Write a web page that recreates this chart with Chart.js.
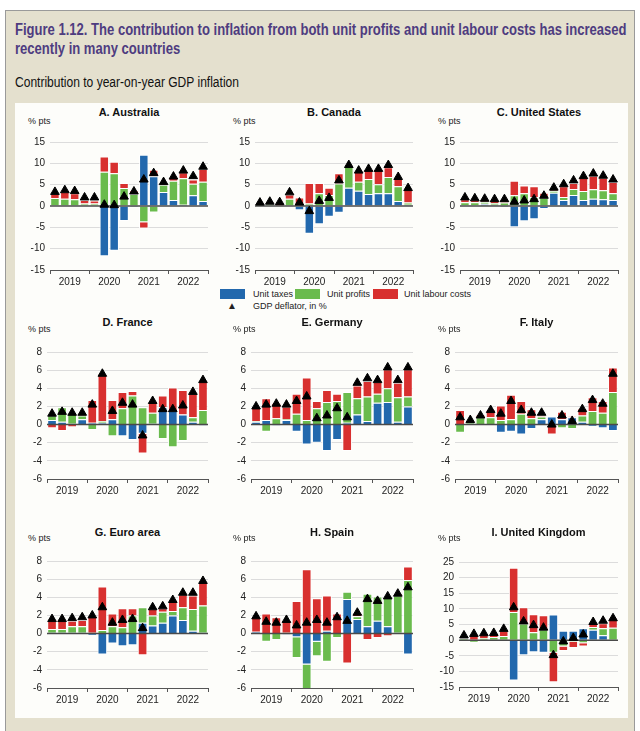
<!DOCTYPE html>
<html>
<head>
<meta charset="utf-8">
<script src="https://cdn.jsdelivr.net/npm/chart.js@4/dist/chart.umd.min.js"></script>
<style>
  html,body{margin:0;padding:0;background:#fff;width:640px;height:731px;overflow:hidden;}
  #frame{position:absolute;left:5px;top:10px;width:630px;height:730px;background:#e4e0ce;border:1px solid #9a9a9a;box-sizing:border-box;}
  #inner{position:absolute;left:15px;top:103px;width:613px;height:615px;background:#fdfdfa;}
  .ttl{position:absolute;left:15px;top:20px;white-space:nowrap;font-family:"Liberation Sans",Arial,sans-serif;font-weight:bold;font-size:16px;line-height:19px;color:#4e3c80;transform:scaleX(0.815);transform-origin:0 0;}
  .sub{position:absolute;left:15px;top:74px;white-space:nowrap;font-family:"Liberation Sans",Arial,sans-serif;font-size:14px;color:#111;transform:scaleX(0.86);transform-origin:0 0;}
  canvas{position:absolute;}
  .ptitle{position:absolute;font-family:"Liberation Sans",Arial,sans-serif;font-weight:bold;font-size:11px;color:#111;text-align:center;width:160px;}
  .unit{position:absolute;font-family:"Liberation Sans",Arial,sans-serif;font-size:9px;color:#222;}
  .lg{position:absolute;font-family:"Liberation Sans",Arial,sans-serif;font-size:9px;color:#222;}
  .sw{position:absolute;width:25px;height:10px;}
</style>
</head>
<body>
<div id="frame"></div>
<div id="inner"></div>
<div class="ttl">Figure 1.12. The contribution to inflation from both unit profits and unit labour costs has increased<br>recently in many countries</div>
<div class="sub">Contribution to year-on-year GDP inflation</div>

<div class="sw" style="left:220px;top:289px;background:#2268ad"></div>
<div class="lg" style="left:253px;top:289px">Unit taxes</div>
<div class="sw" style="left:295px;top:289px;background:#6abb4d"></div>
<div class="lg" style="left:327px;top:289px">Unit profits</div>
<div class="sw" style="left:373px;top:289px;background:#d8302f"></div>
<div class="lg" style="left:404px;top:289px">Unit labour costs</div>
<div class="lg" style="left:227px;top:300px;font-size:10px">&#9650;</div>
<div class="lg" style="left:253px;top:301px">GDP deflator, in %</div>

<script>
const quarters = ['2019Q1','2019Q2','2019Q3','2019Q4','2020Q1','2020Q2','2020Q3','2020Q4','2021Q1','2021Q2','2021Q3','2021Q4','2022Q1','2022Q2','2022Q3','2022Q4'];
const years = ['2019','2020','2021','2022'];

const ausTaxes   = [0.1,0.1,0.1,0.0,0.0,-11.8,-10.5,-3.5,-0.4,12.0,7.0,3.3,1.4,0.3,2.5,1.2];
const ausProfits = [1.8,1.6,1.5,0.6,0.6,8.0,7.7,4.2,2.8,-3.8,-1.5,1.7,4.5,6.2,2.7,4.5];
const ausLabour  = [1.0,1.6,1.4,0.8,0.7,3.6,2.7,1.2,0.9,-1.5,1.5,0.4,0.7,1.4,1.0,3.0];
const ausDefl    = [3.3,3.7,3.5,2.0,2.0,0.3,0.2,2.2,3.4,6.2,7.7,5.6,6.9,8.3,7.0,9.2];

const canTaxes   = [0.1,0.1,0.1,0.1,-1.0,-6.5,-4.3,-2.5,-1.6,4.3,3.6,2.8,3.0,3.0,1.2,0.3];
const canProfits = [0.3,0.4,-0.2,1.6,0.1,0.6,3.0,2.6,5.3,5.0,2.1,3.5,2.1,3.8,3.4,0.5];
const canLabour  = [0.4,0.5,0.6,1.0,1.9,4.8,2.4,1.7,2.4,0.3,2.3,2.2,3.4,2.3,1.9,3.1];
const canDefl    = [0.8,1.0,0.9,3.2,0.8,-1.2,1.2,1.9,6.0,9.6,8.3,8.7,8.7,9.6,6.8,4.2];

const usaTaxes   = [0.2,0.2,0.5,0.3,-0.3,-5.0,-3.6,-3.1,-0.7,3.1,1.4,2.6,1.4,1.7,1.6,1.4];
const usaProfits = [0.7,0.7,0.5,0.4,0.8,2.5,3.0,2.1,1.9,0.5,0.7,1.4,2.1,2.2,2.1,1.6];
const usaLabour  = [0.7,0.5,0.4,0.6,0.5,3.4,1.8,2.5,1.2,0.7,2.5,1.4,3.1,3.2,2.9,2.6];
const usaDefl    = [2.0,1.8,1.7,1.6,1.6,1.0,1.3,1.6,2.4,4.3,5.1,6.0,7.0,7.6,7.1,6.2];

const fraTaxes   = [0.5,0.3,0.1,0.6,0.2,0.2,0.6,-1.3,-1.7,-1.0,0.1,1.9,1.5,1.1,0.3,-0.1];
const fraProfits = [0.5,1.6,1.1,0.4,-0.6,0.2,-1.3,1.8,3.2,1.9,1.2,-1.6,-2.5,-1.8,0.5,1.6];
const fraLabour  = [-0.4,-0.7,-0.3,0.3,2.5,5.2,2.1,1.8,0.5,-2.2,1.2,1.3,2.6,2.7,2.6,3.3];
const fraDefl    = [1.2,1.4,1.3,1.3,2.2,5.6,1.5,2.4,2.2,-1.2,2.6,1.7,1.7,2.1,3.6,4.9];

const deuTaxes   = [0.3,0.5,-0.1,0.5,-0.8,-2.2,-2.0,-2.9,-1.7,0.2,1.1,0.4,2.4,2.5,0.3,2.0];
const deuProfits = [0.1,-0.8,0.7,0.1,1.2,0.5,1.8,2.5,2.6,3.4,1.8,2.7,1.0,1.5,2.7,1.1];
const deuLabour  = [1.6,2.4,1.7,1.4,2.2,4.7,0.8,1.3,0.8,-2.9,1.4,1.7,1.3,2.1,1.6,3.0];
const deuDefl    = [2.0,2.2,2.3,2.2,2.6,3.1,0.7,1.0,1.8,0.8,4.6,5.1,4.9,6.3,4.9,6.3];

const itaTaxes   = [0.0,0.1,0.0,0.0,-0.9,-0.8,-1.1,-0.5,0.6,0.9,0.6,0.8,0.3,-0.2,-0.4,-0.7];
const itaProfits = [-0.9,0.2,0.8,0.8,0.5,0.6,1.2,0.7,0.3,-0.1,-0.4,-0.5,0.7,1.5,1.3,3.6];
const itaLabour  = [1.6,0.2,0.3,0.9,1.6,2.7,1.4,1.0,0.1,-1.0,0.8,0.1,0.8,1.5,1.3,2.7];
const itaDefl    = [0.8,0.5,1.0,1.6,1.2,2.6,1.6,1.3,1.3,0.0,1.0,0.4,1.7,2.7,2.3,5.6];

const eurTaxes   = [0.1,0.1,0.1,0.1,-0.2,-2.3,-1.1,-1.4,-1.3,1.2,0.9,1.2,2.0,1.5,0.3,0.1];
const eurProfits = [0.4,0.4,0.7,0.7,0.1,0.4,0.8,0.7,2.0,1.7,1.1,1.2,0.5,1.4,2.4,3.0];
const eurLabour  = [0.9,1.0,0.6,0.7,1.8,4.8,1.4,2.1,0.8,-2.4,0.7,0.4,1.1,1.4,1.5,2.6];
const eurDefl    = [1.6,1.6,1.7,1.8,2.0,2.9,1.2,1.5,1.6,0.6,2.9,3.0,3.7,4.5,4.5,5.8];

const espTaxes   = [0.2,0.0,0.0,-0.1,-0.4,-3.4,-0.9,0.3,0.0,3.8,1.6,0.8,1.4,0.8,0.1,-2.3];
const espProfits = [0.0,-0.9,-0.7,0.1,-2.3,-3.0,-1.6,-3.1,-0.5,0.8,0.3,3.6,2.7,3.3,4.1,5.9];
const espLabour  = [1.7,2.2,1.8,1.4,3.6,7.1,3.9,3.9,2.2,-3.3,0.4,-0.7,-0.5,-0.3,0.2,1.5];
const espDefl    = [1.9,1.3,1.2,1.5,0.9,1.2,1.5,1.2,1.8,1.4,2.3,3.8,3.6,4.1,4.4,5.1];

const gbrTaxes   = [0.1,0.0,0.0,0.0,0.0,-12.9,-4.8,-3.9,-4.0,8.2,3.0,3.0,3.8,3.3,1.6,-0.3];
const gbrProfits = [0.6,-0.8,0.7,1.0,1.3,9.0,5.3,2.5,3.4,-4.0,-2.0,-0.5,-1.0,0.9,2.2,4.0];
const gbrLabour  = [0.9,2.0,1.2,0.8,1.7,14.2,5.2,5.8,4.6,-9.5,-1.5,-2.0,-1.0,1.1,1.6,3.2];
const gbrDefl    = [1.5,2.0,2.2,2.3,3.6,10.5,6.0,4.8,4.0,-4.8,-0.4,0.7,1.8,5.8,6.2,7.0];

const titles = ['A. Australia','B. Canada','C. United States','D. France','E. Germany','F. Italy','G. Euro area','H. Spain','I. United Kingdom'];
const yMin = [-15,-15,-15,-6,-6,-6,-6,-6,-15];
const yMax = [15,15,15,8,8,8,8,8,25];
const yStep = [5,5,5,2,2,2,2,2,5];

const seriesSets = [
  [ausTaxes,ausProfits,ausLabour,ausDefl],
  [canTaxes,canProfits,canLabour,canDefl],
  [usaTaxes,usaProfits,usaLabour,usaDefl],
  [fraTaxes,fraProfits,fraLabour,fraDefl],
  [deuTaxes,deuProfits,deuLabour,deuDefl],
  [itaTaxes,itaProfits,itaLabour,itaDefl],
  [eurTaxes,eurProfits,eurLabour,eurDefl],
  [espTaxes,espProfits,espLabour,espDefl],
  [gbrTaxes,gbrProfits,gbrLabour,gbrDefl]
];

// layout: plot-area rectangles [left, right, top, bottom]
const plotRects = [
  [50,208,141,270],[255,413,141,270],[460,618,141,270],
  [47,208,351,479],[251,413,351,479],[455,618,351,479],
  [47,208,560,688],[251,413,560,688],[459,618,561,687]
];
const unitPos = [[28,116],[233,116],[438,116],[28,324],[233,324],[438,324],[28,533],[233,533],[438,533]];
const titleTop = [106,106,106,316,316,316,526,526,526];

const BLUE='#2268ad', GREEN='#6abb4d', RED='#d8302f';
const tickFont = {family:'"Liberation Sans", Arial, sans-serif', size:10};

const zeroLine = {
  id:'zeroLine',
  afterDatasetDraw(chart, args){
    if (args.index !== 1) return;
    const y = chart.scales.y.getPixelForValue(0);
    const a = chart.chartArea;
    const c = chart.ctx;
    c.save();
    c.strokeStyle = '#4a4a4a';
    c.lineWidth = 1.5;
    c.beginPath(); c.moveTo(a.left, y); c.lineTo(a.right, y); c.stroke();
    c.restore();
  }
};

titles.forEach((t, i) => {
  const [pl, pr, pt, pb] = plotRects[i];
  const padL = 40, padT = 10, padR = 6, axH = 20;
  const L = pl - padL, T = pt - padT, W = pr - L + padR, H = pb - T + axH;
  const cv = document.createElement('canvas');
  cv.width = W; cv.height = H;
  cv.style.left = L + 'px'; cv.style.top = T + 'px';
  cv.style.width = W + 'px'; cv.style.height = H + 'px';
  document.body.appendChild(cv);

  const tt = document.createElement('div');
  tt.className = 'ptitle';
  tt.textContent = t;
  tt.style.left = ((pl + pr) / 2 - 80) + 'px';
  tt.style.top = titleTop[i] + 'px';
  document.body.appendChild(tt);

  const u = document.createElement('div');
  u.className = 'unit';
  u.textContent = '% pts';
  u.style.left = unitPos[i][0] + 'px';
  u.style.top = unitPos[i][1] + 'px';
  document.body.appendChild(u);

  const [tax, prof, lab, defl] = seriesSets[i];
  const barCommon = {borderColor:'#ffffff', borderWidth:1, stack:'s', order:2, barPercentage:1.0, categoryPercentage:0.96};
  new Chart(cv.getContext('2d'), {
    type:'bar',
    data:{
      labels: quarters,
      datasets:[
        {type:'line', label:'GDP deflator, in %', data:defl, showLine:false, pointStyle:'triangle', pointRadius:5, pointBackgroundColor:'#000', pointBorderColor:'#000', pointBorderWidth:1, stack:'d', order:0},
        Object.assign({label:'Unit taxes', data:tax, backgroundColor:BLUE}, barCommon),
        Object.assign({label:'Unit profits', data:prof, backgroundColor:GREEN}, barCommon),
        Object.assign({label:'Unit labour costs', data:lab, backgroundColor:RED}, barCommon)
      ]
    },
    options:{
      responsive:false, animation:false, devicePixelRatio:1,
      layout:{padding:{top:padT, right:padR, left:0, bottom:0}},
      plugins:{legend:{display:false}, tooltip:{enabled:false}, title:{display:false}},
      scales:{
        x:{display:false, stacked:true, offset:true},
        x2:{type:'category', labels:years, position:'bottom', offset:true,
            grid:{offset:true, drawOnChartArea:false, drawTicks:true, tickLength:4, color:'#555'},
            border:{display:true, color:'#555', width:1},
            ticks:{font:tickFont, color:'#222', padding:2, maxRotation:0},
            afterFit(s){ s.height = axH; }},
        y:{stacked:true, min:yMin[i], max:yMax[i],
           ticks:{stepSize:yStep[i], font:tickFont, color:'#222', padding:5},
           grid:{color:(c)=> (c.tick && c.tick.value === 0) ? 'rgba(0,0,0,0)' : '#dcdcdc', drawTicks:false, lineWidth:1},
           border:{display:false},
           afterFit(s){ s.width = padL; }}
      }
    },
    plugins:[zeroLine]
  });
});
</script>
</body>
</html>
